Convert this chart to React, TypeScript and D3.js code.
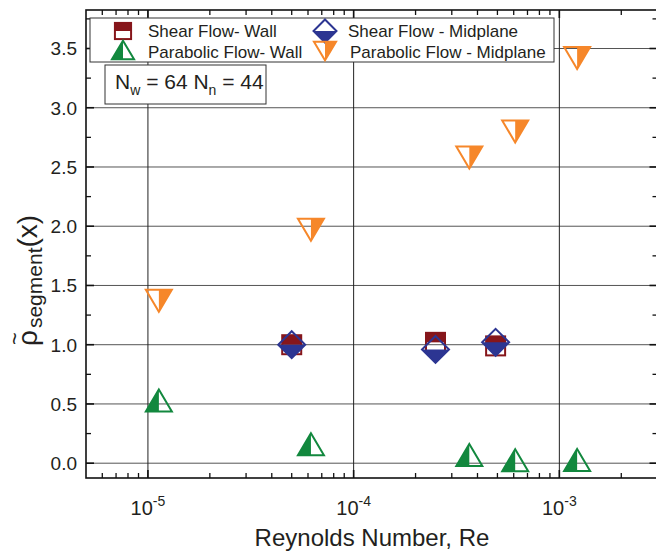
import * as d3 from 'd3'

// Reynolds numbers and normalised segment density
const shearRe = [5e-5, 2.5e-4, 4.9e-4]
const shearWall = [1.0, 1.02, 0.99]
const shearMid = [1.0, 0.96, 1.02]

const paraRe = [1.13e-5, 6.2e-5, 3.65e-4, 6.1e-4, 1.22e-3]
const paraWall = [0.53, 0.16, 0.07, 0.025, 0.027]
const paraMid = [1.37, 1.97, 2.58, 2.8, 3.42]

const yTicks = [0, 0.5, 1, 1.5, 2, 2.5, 3, 3.5]
const xTickExp = [-5, -4, -3]

const RED = '#86161b'
const BLUE = '#2c3592'
const GREEN = '#12883e'
const ORANGE = '#f6872a'
const FONT = '"Liberation Sans", Arial, Helvetica, sans-serif'

const left = 86,
  right = 657.5,
  top = 10,
  bottom = 478

const x = d3.scaleLog().domain([5e-6, 3e-3]).range([left, right])
const y = d3.scaleLinear().domain([-0.125, 3.825]).range([bottom, top])

// half-filled markers, centred on their bounding box
const Square = ({ cx, cy, k = 1 }: { cx: number; cy: number; k?: number }) => {
  const s = 9.5 * k
  return (
    <g transform={`translate(${cx},${cy})`}>
      <rect x={-s} y={-s} width={2 * s} height={s} fill={RED} />
      <rect x={-s} y={-s} width={2 * s} height={2 * s} fill="none" stroke={RED} strokeWidth={2} />
    </g>
  )
}

const Diamond = ({ cx, cy, k = 1 }: { cx: number; cy: number; k?: number }) => {
  const r = 13.5 * k
  return (
    <g transform={`translate(${cx},${cy})`}>
      <path d={`M${-r},0L${r},0L0,${r}Z`} fill={BLUE} />
      <path d={`M0,${-r}L${r},0L0,${r}L${-r},0Z`} fill="none" stroke={BLUE} strokeWidth={2} />
    </g>
  )
}

const TriUp = ({ cx, cy, k = 1 }: { cx: number; cy: number; k?: number }) => {
  const w = 13 * k,
    h = 11 * k
  return (
    <g transform={`translate(${cx},${cy})`}>
      <path d={`M0,${-h}L0,${h}L${-w},${h}Z`} fill={GREEN} />
      <path d={`M0,${-h}L${w},${h}L${-w},${h}Z`} fill="none" stroke={GREEN} strokeWidth={2} />
    </g>
  )
}

const TriDown = ({ cx, cy, k = 1 }: { cx: number; cy: number; k?: number }) => {
  const w = 13 * k,
    h = 11 * k
  return (
    <g transform={`translate(${cx},${cy})`}>
      <path d={`M0,${-h}L${w},${-h}L0,${h}Z`} fill={ORANGE} />
      <path d={`M${-w},${-h}L${w},${-h}L0,${h}Z`} fill="none" stroke={ORANGE} strokeWidth={2} />
    </g>
  )
}

export default function App() {
  const [d0, d1] = x.domain()
  const minor: number[] = []
  for (let e = -6; e <= -3; e++) {
    for (let m = 2; m <= 9; m++) {
      const v = m * Math.pow(10, e)
      if (v > d0 && v < d1) minor.push(v)
    }
  }
  const major = xTickExp.map((e) => Math.pow(10, e))
  const yMinor = yTicks.map((t) => t + 0.25).filter((t) => t < 3.825)

  return (
    <svg width={656} height={552} style={{ position: 'absolute', left: 0, top: 0, background: '#fff' }} fontFamily={FONT}>
      <rect width={656} height={552} fill="#fff" />

      {/* grid */}
      {yTicks.map((t) => (
        <line key={'gy' + t} x1={left} x2={right} y1={y(t)} y2={y(t)} stroke="#555" strokeWidth={1} />
      ))}
      {major.map((t) => (
        <line key={'gx' + t} x1={x(t)} x2={x(t)} y1={top} y2={bottom} stroke="#222" strokeWidth={1} />
      ))}

      {/* ticks */}
      {yTicks.map((t) => (
        <g key={'ty' + t}>
          <line x1={left} x2={left + 8} y1={y(t)} y2={y(t)} stroke="#111" strokeWidth={1.6} />
          <line x1={right} x2={right - 8} y1={y(t)} y2={y(t)} stroke="#111" strokeWidth={1.6} />
        </g>
      ))}
      {yMinor.map((t) => (
        <g key={'tym' + t}>
          <line x1={left} x2={left + 5} y1={y(t)} y2={y(t)} stroke="#111" strokeWidth={1.3} />
          <line x1={right} x2={right - 5} y1={y(t)} y2={y(t)} stroke="#111" strokeWidth={1.3} />
        </g>
      ))}
      {major.map((t) => (
        <g key={'tx' + t}>
          <line x1={x(t)} x2={x(t)} y1={bottom} y2={bottom - 8} stroke="#111" strokeWidth={1.6} />
          <line x1={x(t)} x2={x(t)} y1={top} y2={top + 8} stroke="#111" strokeWidth={1.6} />
        </g>
      ))}
      {minor.map((t) => (
        <g key={'txm' + t}>
          <line x1={x(t)} x2={x(t)} y1={bottom} y2={bottom - 5} stroke="#111" strokeWidth={1.3} />
          <line x1={x(t)} x2={x(t)} y1={top} y2={top + 5} stroke="#111" strokeWidth={1.3} />
        </g>
      ))}

      {/* frame */}
      <rect x={left} y={top} width={right - left} height={bottom - top} fill="none" stroke="#111" strokeWidth={1.6} />

      {/* tick labels */}
      {yTicks.map((t) => (
        <text key={'ly' + t} x={77} y={y(t)} dy="0.36em" textAnchor="end" fontSize={19} fill="#231f20">
          {d3.format('.1f')(t)}
        </text>
      ))}
      {xTickExp.map((e) => (
        <text key={'lx' + e} x={x(Math.pow(10, e))} y={515} textAnchor="middle" fontSize={20} fill="#231f20">
          10
          <tspan fontSize={14} dy={-9}>
            {e}
          </tspan>
        </text>
      ))}

      {/* axis titles */}
      <text x={372} y={546} textAnchor="middle" fontSize={24} fill="#231f20">
        Reynolds Number, Re
      </text>
      <g transform="translate(37,346) rotate(-90)" fill="#231f20">
        <text x={0} y={0} fontSize={28}>
          ρ
          <tspan fontSize={21} dy={5} dx={2}>
            segment
          </tspan>
          <tspan fontSize={28} dy={-5}>
            (x)
          </tspan>
        </text>
        <text x={1} y={-15} fontSize={22}>
          ~
        </text>
      </g>

      {/* data */}
      {shearRe.map((r, i) => (
        <Square key={'sw' + i} cx={x(r)} cy={y(shearWall[i])} />
      ))}
      {shearRe.map((r, i) => (
        <Diamond key={'sm' + i} cx={x(r)} cy={y(shearMid[i])} />
      ))}
      {paraRe.map((r, i) => (
        <TriUp key={'pw' + i} cx={x(r)} cy={y(paraWall[i])} />
      ))}
      {paraRe.map((r, i) => (
        <TriDown key={'pm' + i} cx={x(r)} cy={y(paraMid[i])} />
      ))}

      {/* legend */}
      <rect x={90} y={18} width={464} height={44} fill="#fff" stroke="#333" strokeWidth={1} />
      <Square cx={123} cy={31} k={0.85} />
      <Diamond cx={325} cy={31} k={0.85} />
      <TriUp cx={123} cy={50} k={0.85} />
      <TriDown cx={325} cy={51} k={0.85} />
      <g fontSize={17} fill="#231f20">
        <text x={148} y={37}>Shear Flow- Wall</text>
        <text x={348} y={37}>Shear Flow - Midplane</text>
        <text x={148} y={58}>Parabolic Flow- Wall</text>
        <text x={350} y={58}>Parabolic Flow - Midplane</text>
      </g>

      <rect x={105} y={65} width={161} height={39} fill="#fff" stroke="#333" strokeWidth={1} />
      <text x={115} y={89} fontSize={21} fill="#231f20">
        N
        <tspan fontSize={14} dy={6}>
          w
        </tspan>
        <tspan dy={-6}> = 64 N</tspan>
        <tspan fontSize={14} dy={6}>
          n
        </tspan>
        <tspan dy={-6}> = 44</tspan>
      </text>
    </svg>
  )
}
